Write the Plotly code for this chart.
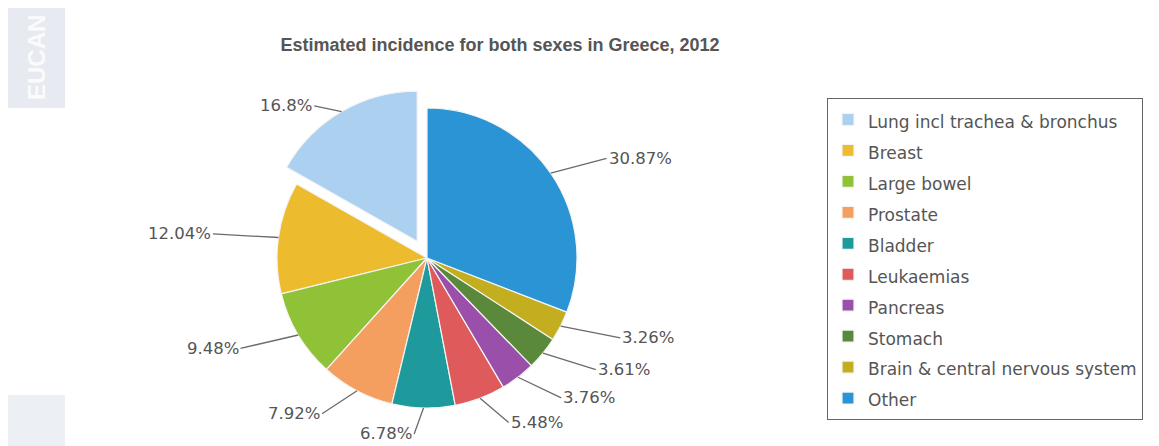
import math
import plotly.graph_objects as go

# ---- data ----
sites = ["Lung incl trachea & bronchus", "Breast", "Large bowel", "Prostate", "Bladder",
         "Leukaemias", "Pancreas", "Stomach", "Brain & central nervous system", "Other"]
shares = [16.8, 12.04, 9.48, 7.92, 6.78, 5.48, 3.76, 3.61, 3.26, 30.87]
colors = ["#acd0ef", "#edbb2e", "#8fc237", "#f49f5f", "#1f9a9c",
          "#df5a5a", "#9a4fab", "#5a893c", "#c3ae1f", "#2b94d4"]
pulls = [0.13, 0, 0, 0, 0, 0, 0, 0, 0, 0]
title_text = "Estimated incidence for both sexes in Greece, 2012"

# the page body has an 8px margin, so the figure is 8px smaller than the window
W, H = 1151, 438
CX, CY, R = 419, 250, 150          # pie centre / radius in figure px
LX, LY = 208, 176                  # label ring radii (px)
maxpull = max(pulls)
half = R * (1 + maxpull)
total = sum(shares)
rot = -shares[0] / total * 360     # first slice starts at 12 o'clock, going counter-clockwise

fig = go.Figure()
fig.add_trace(go.Pie(
    labels=[f"<span style='font-size:17px'>{s}</span>" for s in sites],
    values=shares,
    sort=False,
    direction="counterclockwise",
    rotation=rot,
    pull=pulls,
    textinfo="none",
    hoverinfo="label+percent",
    marker=dict(colors=colors, line=dict(color="#f4f4f4", width=1.2)),
    domain=dict(x=[(CX - half) / W, (CX + half) / W],
                y=[1 - (CY + half) / H, 1 - (CY - half) / H]),
))

# outside labels with leader lines, positioned from the slice angles
annotations = []
cum = 0.0
for v, p in zip(shares, pulls):
    mid = (cum + v / 2) / total * 2 * math.pi
    cum += v
    dx, dy = -math.sin(mid), -math.cos(mid)      # screen direction (y down), ccw from 12
    r_i = R * (1 + p)
    px, py = CX + r_i * dx, CY + r_i * dy        # point on the slice edge
    side = 1 if dx >= 0 else -1
    tx, ty = CX + LX * dx + side * 8, CY + LY * dy  # label anchor
    annotations.append(dict(
        x=px / W, y=1 - py / H, xref="paper", yref="paper",
        text=f"{v:g}%", showarrow=True, arrowhead=0, arrowwidth=1.3,
        arrowcolor="#6a6a6a", standoff=0,
        ax=tx - px, ay=ty - py,
        xanchor="left" if side > 0 else "right", yanchor="middle",
        font=dict(family="DejaVu Sans", size=16.5, color="#555555"),
    ))

# faint EUCAN logo strip at left
annotations.append(dict(x=29 / W, y=1 - 50 / H, xref="paper", yref="paper",
                        xanchor="center", yanchor="middle",
                        text="<b>EUCAN</b>", textangle=-90, showarrow=False,
                        font=dict(family="Liberation Sans", size=24, color="#fafbfc")))

fig.update_layout(
    width=W, height=H,
    margin=dict(l=0, r=0, t=0, b=0),
    paper_bgcolor="white", plot_bgcolor="white",
    title=dict(text=f"<b>{title_text}</b>", x=492 / W, xanchor="center",
               y=1 - 37 / H, yanchor="middle",
               font=dict(family="Liberation Sans", size=18, color="#555555")),
    legend=dict(x=819 / W, y=1 - 90 / H, xanchor="left", yanchor="top",
                bordercolor="#666666", borderwidth=1, bgcolor="white",
                font=dict(family="DejaVu Sans", size=21.5, color="#555555"),
                traceorder="normal"),
    annotations=annotations,
    shapes=[
        dict(type="rect", xref="paper", yref="paper", x0=0, x1=57 / W,
             y0=1 - 100 / H, y1=1, fillcolor="#e7eaf0", line=dict(width=0), layer="below"),
        dict(type="rect", xref="paper", yref="paper", x0=0, x1=57 / W,
             y0=0, y1=1 - 387 / H, fillcolor="#eceff3", line=dict(width=0), layer="below"),
    ],
)

fig.write_html("out.html")
